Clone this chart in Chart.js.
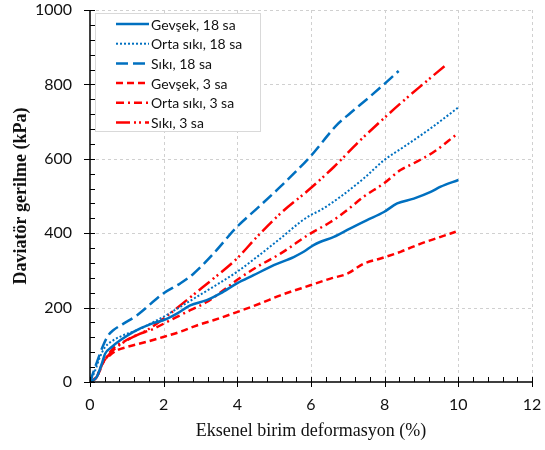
<!DOCTYPE html>
<html>
<head>
<meta charset="utf-8">
<script src="https://cdn.jsdelivr.net/npm/chart.js@4/dist/chart.umd.min.js"></script>
<style>
  html, body { margin: 0; padding: 0; background: #fff; }
  #wrap { width: 545px; height: 450px; position: relative; }
</style>
</head>
<body>
<div id="wrap"><canvas id="c" width="545" height="450"></canvas></div>
<script>
// ---- Data ----
const xTickLabels = [0, 2, 4, 6, 8, 10, 12];
const yTickLabels = [0, 200, 400, 600, 800, 1000];
const seriesNames = ["Gevşek, 18 sa", "Orta sıkı, 18 sa", "Sıkı, 18 sa", "Gevşek, 3 sa", "Orta sıkı, 3 sa", "Sıkı, 3 sa"];

const gevsek18X = [0, 0.18, 0.32, 0.41, 0.59, 0.82, 1.18, 1.68, 1.99, 2.36, 2.72, 3.17, 3.54, 3.99, 4.44, 4.99, 5.53, 5.80, 6.07, 6.26, 6.62, 7.07, 7.52, 7.98, 8.34, 8.79, 9.25, 9.52, 10.0];
const gevsek18Y = [0, 13, 49, 76, 94, 112, 135, 157, 166, 184, 206, 220, 238, 265, 287, 314, 336, 350, 368, 377, 390, 413, 435, 457, 480, 493, 511, 525, 543];

const orta18X = [0, 0.14, 0.27, 0.41, 0.63, 0.91, 1.27, 1.72, 1.99, 2.45, 2.90, 3.35, 3.99, 4.53, 5.17, 5.71, 5.98, 6.26, 6.80, 7.43, 7.98, 8.52, 9.25, 10.0];
const orta18Y = [0, 31, 67, 94, 112, 126, 139, 161, 175, 202, 229, 256, 296, 336, 386, 430, 448, 462, 498, 547, 596, 632, 682, 738];

const siki18X = [0, 0.14, 0.27, 0.36, 0.50, 0.63, 0.91, 1.27, 1.99, 2.45, 2.81, 3.35, 3.99, 4.53, 5.17, 5.98, 6.71, 7.07, 7.61, 8.07, 8.38];
const siki18Y = [0, 40, 76, 99, 126, 139, 157, 179, 238, 265, 291, 345, 417, 466, 525, 606, 692, 723, 768, 808, 836];

const gevsek3X = [0, 0.14, 0.27, 0.36, 0.54, 0.73, 1.00, 1.54, 1.99, 2.45, 2.90, 3.35, 3.99, 4.62, 5.17, 5.98, 6.53, 6.98, 7.43, 7.89, 8.43, 8.98, 9.52, 9.93];
const gevsek3Y = [0, 9, 31, 54, 72, 85, 94, 108, 121, 135, 152, 166, 188, 211, 233, 260, 278, 291, 318, 332, 350, 372, 390, 404];

const orta3X = [0, 0.18, 0.32, 0.45, 0.63, 0.91, 1.27, 1.72, 2.18, 2.72, 3.17, 3.63, 3.99, 4.53, 5.17, 5.98, 6.53, 6.98, 7.43, 7.98, 8.43, 8.79, 9.34, 9.93];
const orta3Y = [0, 13, 45, 67, 90, 108, 126, 143, 166, 193, 215, 247, 274, 309, 345, 399, 430, 462, 498, 534, 570, 588, 619, 664];

const siki3X = [0, 0.18, 0.32, 0.50, 0.73, 1.09, 1.54, 1.99, 2.45, 2.90, 3.35, 3.99, 4.53, 5.17, 5.98, 6.62, 7.34, 8.07, 8.43, 9.07, 9.66];
const siki3Y = [0, 13, 45, 72, 94, 117, 139, 170, 206, 242, 278, 332, 390, 453, 520, 578, 650, 717, 749, 803, 852];

// ---- build ----
const toPts = (xs, ys) => xs.map((x, i) => ({ x: x, y: ys[i] }));
const BLUE = '#0070C0';
const RED = '#FF0000';

function ds(label, xs, ys, color, dash, width) {
  return {
    label: label,
    data: toPts(xs, ys),
    borderColor: color,
    backgroundColor: color,
    borderWidth: width,
    borderDash: dash,
    pointRadius: 0,
    showLine: true,
    fill: false,
    cubicInterpolationMode: 'monotone'
  };
}

const datasets = [
  ds(seriesNames[0], gevsek18X, gevsek18Y, BLUE, [], 2.5),
  ds(seriesNames[1], orta18X, orta18Y, BLUE, [2, 2], 2),
  ds(seriesNames[2], siki18X, siki18Y, BLUE, [12, 5], 2.5),
  ds(seriesNames[3], gevsek3X, gevsek3Y, RED, [7, 4], 2.5),
  ds(seriesNames[4], orta3X, orta3Y, RED, [8, 4, 2, 4], 2.5),
  ds(seriesNames[5], siki3X, siki3Y, RED, [14, 4, 2, 3, 2, 4], 2.5)
];

// dashed grid drawn from the scales
const gridPlugin = {
  id: 'dashgrid',
  beforeDatasetsDraw(chart) {
    const ctx = chart.ctx;
    const xs = chart.scales.x, ys = chart.scales.y;
    const area = chart.chartArea;
    ctx.save();
    ctx.strokeStyle = '#d0d0d0';
    ctx.lineWidth = 1;
    ctx.setLineDash([3, 3]);
    xTickLabels.forEach(v => {
      if (v === 0) return;
      const px = Math.round(xs.getPixelForValue(v)) + 0.5;
      ctx.beginPath(); ctx.moveTo(px, area.top); ctx.lineTo(px, area.bottom); ctx.stroke();
    });
    yTickLabels.forEach(v => {
      if (v === 0) return;
      const py = Math.round(ys.getPixelForValue(v)) + 0.5;
      ctx.beginPath(); ctx.moveTo(area.left, py); ctx.lineTo(area.right, py); ctx.stroke();
    });
    ctx.restore();
  }
};

// tick marks, axis lines and in-plot legend
const decorPlugin = {
  id: 'decor',
  afterDraw(chart) {
    const ctx = chart.ctx;
    const xs = chart.scales.x, ys = chart.scales.y;
    const area = chart.chartArea;
    ctx.save();
    ctx.strokeStyle = '#000';
    ctx.lineWidth = 1;
    ctx.setLineDash([]);
    for (let i = 0; i <= 30; i++) {
      const v = i * 0.4;
      const px = Math.round(xs.getPixelForValue(v)) + 0.5;
      const major = (i % 5 === 0);
      ctx.beginPath();
      ctx.moveTo(px, area.bottom - 5);
      ctx.lineTo(px, area.bottom + (major ? 5 : 0));
      ctx.stroke();
    }
    for (let i = 0; i <= 25; i++) {
      const v = i * 40;
      const py = Math.round(ys.getPixelForValue(v)) + 0.5;
      const major = (i % 5 === 0);
      ctx.beginPath();
      ctx.moveTo(area.left - (major ? 6 : 0), py);
      ctx.lineTo(area.left + 5, py);
      ctx.stroke();
    }
    ctx.lineWidth = 1.5;
    ctx.beginPath();
    ctx.moveTo(area.left, area.top);
    ctx.lineTo(area.left, area.bottom);
    ctx.lineTo(area.right, area.bottom);
    ctx.stroke();

    // legend
    const bx = 95.5, by = 13.5, bw = 165, bh = 118;
    ctx.fillStyle = '#fff';
    ctx.fillRect(bx, by, bw, bh);
    ctx.strokeStyle = '#d9d9d9';
    ctx.lineWidth = 1;
    ctx.strokeRect(bx, by, bw, bh);
    ctx.font = '14px Lato';
    ctx.textBaseline = 'middle';
    ctx.textAlign = 'left';
    chart.data.datasets.forEach((d, i) => {
      const cy = 24 + i * 19.7;
      ctx.save();
      ctx.strokeStyle = d.borderColor;
      ctx.lineWidth = d.borderWidth;
      ctx.setLineDash(d.borderDash || []);
      ctx.beginPath();
      ctx.moveTo(116, cy);
      ctx.lineTo(149, cy);
      ctx.stroke();
      ctx.restore();
      ctx.fillStyle = '#111';
      ctx.fillText(d.label, 151, cy + 1);
    });
    ctx.restore();
  }
};

new Chart(document.getElementById('c'), {
  type: 'scatter',
  data: { datasets: datasets },
  options: {
    responsive: false,
    animation: false,
    devicePixelRatio: 1,
    layout: { padding: { top: 10, right: 13, left: 0, bottom: 0 } },
    plugins: { legend: { display: false }, tooltip: { enabled: false } },
    scales: {
      x: {
        type: 'linear',
        min: xTickLabels[0],
        max: xTickLabels[xTickLabels.length - 1],
        afterBuildTicks: (s) => { s.ticks = xTickLabels.map(v => ({ value: v })); },
        afterFit: (s) => { s.height = 68; s.paddingLeft = 0; s.paddingRight = 0; },
        grid: { display: false, drawTicks: false },
        border: { display: false },
        ticks: { font: { family: 'Lato', size: 16 }, color: '#111', padding: 13, maxRotation: 0,
                 callback: (v) => String(v) },
        title: {
          display: true,
          text: 'Eksenel birim deformasyon (%)',
          font: { family: 'Liberation Serif', size: 18 },
          color: '#111',
          padding: { top: 0, bottom: 8 }
        }
      },
      y: {
        type: 'linear',
        min: yTickLabels[0],
        max: yTickLabels[yTickLabels.length - 1],
        afterBuildTicks: (s) => { s.ticks = yTickLabels.map(v => ({ value: v })); },
        afterFit: (s) => { s.width = 90; s.paddingTop = 0; s.paddingBottom = 0; },
        grid: { display: false, drawTicks: false },
        border: { display: false },
        ticks: { font: { family: 'Lato', size: 16 }, color: '#111', padding: 18,
                 callback: (v) => String(v) },
        title: {
          display: true,
          text: 'Daviatör gerilme (kPa)',
          font: { family: 'Liberation Serif', size: 18, weight: 'bold' },
          color: '#111',
          padding: { top: 11, bottom: 0 }
        }
      }
    }
  },
  plugins: [gridPlugin, decorPlugin]
});
</script>
</body>
</html>
